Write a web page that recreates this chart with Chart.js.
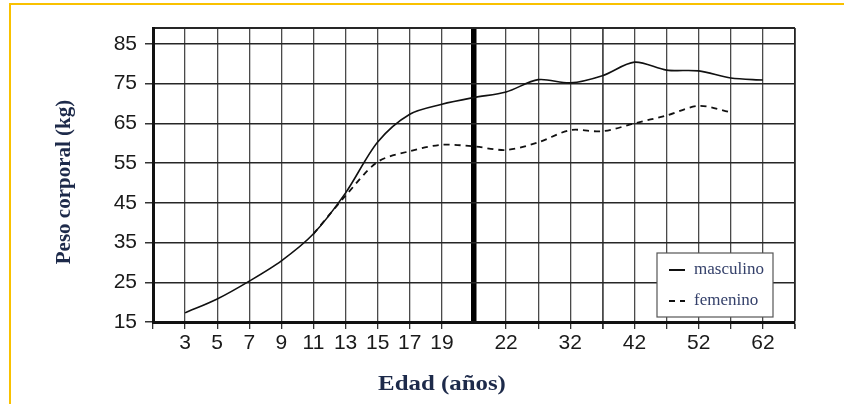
<!DOCTYPE html>
<html lang="es">
<head>
    <meta charset="UTF-8">
    <title>Peso corporal por edad</title>
    <script src="https://cdn.jsdelivr.net/npm/chart.js"></script>
    <style>
        html, body { margin: 0; padding: 0; background: #fff; }
        #marco { position: relative; width: 844px; height: 404px; overflow: hidden; }
        #borde { position: absolute; left: 9px; top: 3px; width: 900px; height: 500px;
                 border-top: 2px solid #f9c100; border-left: 2px solid #f9c100; }
        canvas { position: absolute; left: 0; top: 0; }
    </style>
</head>
<body>
<div id="marco">
    <div id="borde"></div>
    <canvas id="pesoChart" width="844" height="404"></canvas>
</div>
<script>
// Edades (eje x); las casillas vacias son lineas de la reticula sin rotulo
const edades = ['', '3', '5', '7', '9', '11', '13', '15', '17', '19', '', '22', '', '32', '', '42', '', '52', '', '62', ''];
const masculino = [null, 17.3, 20.8, 25.3, 30.4, 37.2, 47.5, 60.3, 67.3, 69.8, 71.5, 72.9, 76.0, 75.2, 77.0, 80.4, 78.4, 78.2, 76.4, 75.9, null];
const femenino = [null, null, null, null, null, 37.2, 46.8, 55.3, 58.0, 59.6, 59.2, 58.3, 60.2, 63.3, 63.0, 65.0, 67.0, 69.4, 67.8, null, null];
const yTicks = [15, 25, 35, 45, 55, 65, 75, 85];
const yMin = 15, yMax = 89;
const indiceCorte = 10; // linea gruesa entre 19 y 22

const serif = '"Liberation Serif", "DejaVu Serif", serif';
const sans = '"Liberation Sans", Arial, sans-serif';

// titulos de los ejes y leyenda dibujados a mano
const extras = {
    id: 'extras',
    afterDraw(chart) {
        const ctx = chart.ctx;
        const area = chart.chartArea;
        ctx.save();
        ctx.fillStyle = '#1d2a4a';
        ctx.textAlign = 'center';
        ctx.textBaseline = 'middle';

        // titulo eje x
        ctx.save();
        ctx.translate(442, 384);
        ctx.scale(1.13, 1);
        ctx.font = 'bold 22px ' + serif;
        ctx.fillText('Edad (años)', 0, 0);
        ctx.restore();

        // titulo eje y
        ctx.save();
        ctx.translate(65, 182);
        ctx.rotate(-Math.PI / 2);
        ctx.font = 'bold 21px ' + serif;
        ctx.fillText('Peso corporal (kg)', 0, 0);
        ctx.restore();

        // leyenda
        const bx = area.right - 138, by = area.bottom - 69, bw = 116, bh = 64;
        ctx.fillStyle = '#fff';
        ctx.fillRect(bx, by, bw, bh);
        ctx.strokeStyle = '#555';
        ctx.lineWidth = 1.2;
        ctx.strokeRect(bx, by, bw, bh);
        chart.data.datasets.forEach((ds, i) => {
            const ly = by + 17 + i * 31;
            ctx.beginPath();
            ctx.strokeStyle = '#111';
            ctx.lineWidth = 2;
            ctx.setLineDash(ds.borderDash || []);
            ctx.moveTo(bx + 12, ly);
            ctx.lineTo(bx + 28, ly);
            ctx.stroke();
            ctx.setLineDash([]);
            ctx.fillStyle = '#34406a';
            ctx.textAlign = 'left';
            ctx.font = '17px ' + serif;
            ctx.fillText(ds.label, bx + 37, ly);
        });
        ctx.restore();
    }
};

window.onload = function() {
    const ctx = document.getElementById('pesoChart').getContext('2d');
    new Chart(ctx, {
        type: 'line',
        data: {
            labels: edades,
            datasets: [{
                label: 'masculino',
                data: masculino,
                borderColor: '#111',
                borderWidth: 1.6,
                pointRadius: 0,
                tension: 0.3,
                fill: false
            }, {
                label: 'femenino',
                data: femenino,
                borderColor: '#111',
                borderWidth: 1.8,
                borderDash: [6, 5],
                pointRadius: 0,
                tension: 0.3,
                fill: false
            }]
        },
        options: {
            responsive: false,
            animation: false,
            layout: { padding: { top: 28, right: 49, bottom: 0, left: 0 } },
            plugins: {
                legend: { display: false },
                tooltip: { enabled: false }
            },
            scales: {
                x: {
                    offset: false,
                    afterFit: function(scale) { scale.height = 82; },
                    border: { display: true, color: '#111', width: 3 },
                    grid: {
                        color: c => c.index === indiceCorte ? '#000' : (c.index === 20 ? '#222' : '#4a4a4a'),
                        lineWidth: c => c.index === indiceCorte ? 5.5 : (c.index === 14 || c.index === 20 ? 1.8 : 1.3),
                        tickColor: c => c.index === indiceCorte ? 'rgba(0,0,0,0)' : '#333',
                        tickLength: 7
                    },
                    ticks: {
                        autoSkip: false,
                        maxRotation: 0,
                        padding: 2,
                        color: '#1a1a1a',
                        font: { family: sans, size: 21 }
                    }
                },
                y: {
                    min: yMin,
                    max: yMax,
                    afterFit: function(scale) { scale.width = 153; },
                    afterBuildTicks: function(scale) {
                        scale.ticks = yTicks.concat([yMax]).map(v => ({ value: v }));
                    },
                    border: { display: true, color: '#111', width: 3 },
                    grid: {
                        color: '#262626',
                        lineWidth: c => c.tick && c.tick.value === yMax ? 2 : 1.5,
                        tickColor: c => c.tick && c.tick.value === yMax ? 'rgba(0,0,0,0)' : '#333',
                        tickLength: 8
                    },
                    ticks: {
                        padding: 8,
                        color: '#1a1a1a',
                        font: { family: sans, size: 21 },
                        callback: v => yTicks.includes(v) ? v : ''
                    }
                }
            }
        },
        plugins: [extras]
    });
};
</script>
</body>
</html>
